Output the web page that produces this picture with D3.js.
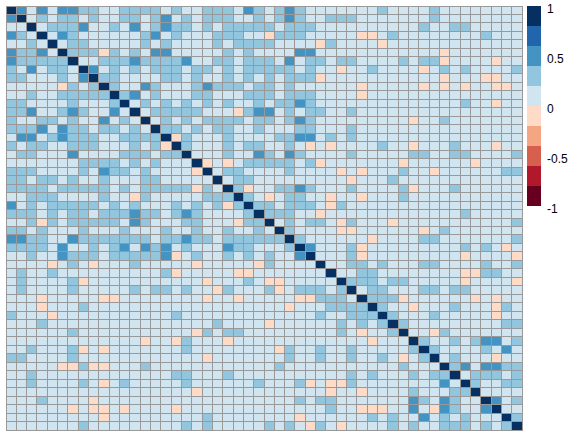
<!DOCTYPE html>
<html>
<head>
<meta charset="utf-8">
<script src="https://cdn.jsdelivr.net/npm/d3@7"></script>
<style>
    html, body { margin: 0; padding: 0; background: #fff; }
    svg { display: block; }
    text { font-family: "Liberation Sans", Arial, sans-serif; font-size: 12px; fill: #000; }
</style>
</head>
<body>
<div id="viz"></div>
<script>
const palette = ['#67001F', '#B2182B', '#D6604D', '#F4A582', '#FDDBC7', '#D1E5F0', '#92C5DE', '#4393C3', '#2166AC', '#053061'];
const breaks = [-0.8, -0.6, -0.4, -0.2, 0, 0.2, 0.4, 0.6, 0.8];
const legendTicks = [1, 0.5, 0, -0.5, -1];

// each letter is one colour bin
const levels = { '#': 1, 'X': 0.5, 'o': 0.3, '.': 0.1, 'n': -0.1 };

// upper triangle, every row starts on the diagonal
const upper = [
    '#X.X.XXoo..oooo.o ..ooo.Xo.oXo..... ..o....o........',
    '#.o.oo.o..oo.oX. o.ooo..o.oXo..ooo .......o........',
    '#.oooX..o.X.oXo o.o.ooooo.ooo.... ......o..oo.....',
    '#.Xo......oX.o ...ooo..nooo..... nn.o........o...',
    '#.oo.....o.o. ...o.oooo....no.. ..n.............',
    '#ooono.o.XX. ....o.o....XX.... ........n.......',
    '#..oooXoooo X..oo.ooo.X.oo.oo ....o.oon....n..',
    '#X.o.o.ooo .oo.o.ooooo.o..n. .o....n.o.o....o',
    '#oo....oo .o..o.o.o.ooon... ........n...nn..',
    '#o..Xo.. .oXooo.oo.o...... n.....n.n.n..nn.',
    '#oX.o.. .oo...ooo.ooo.... n...............',
    '#.o.o. o.o.o..o.ooXo.... ..........o..n..',
    '#.ooo oo...noXX.o.oo..o ................',
    '#.o. o.oooo.oo.oXo.... .....n..o.......',
    '#oo .o.oo..o...oo...o ................',
    '#n o...o....ooXX.o.o ................',
    '# o...o.oo..o.n.n.. ..o..n...o...n..',
    '# ...o..Xo.Xo....o .....oo..oo....o',
    '# n.n.ooooo.on... ....n......n....',
    '# .oo....o....n. n...o..n......oo',
    '# .oo.........n ...o............',
    '# on..ooXo...o ....on...o......',
    '# o.n.oo..n.. n...o...........',
    '# oo.ooo.no. ................',
    '# ooo..n... ..........o.....',
    '# .o.oo.no ...n...........o',
    '# o....nn ......n.o.......',
    '# o..... .n....oo.......o',
    '# X...o n.........o.o.n.',
    '# ...o n.........n....n',
    '# ..o o.o...oo....o..o',
    '# .. oo........nnoo..',
    '# o oo.oo.....n....n',
    '# .oo...oo.oo.....',
    '# ooon......n.n..',
    '# o..n...o...no.',
    '# o...o.....n..',
    '# o.........oo',
    '# ..no.......',
    '# o..o.oXX.o',
    '# o....o.X.',
    '# .o...n..',
    '# oX.XXoo',
    '# .ooo.o',
    '# o..oo',
    '# ....',
    '# X.o',
    '# ..',
    '# o',
    '#'
];

const n = upper.length;
const cells = [];
upper.forEach((row, i) => {
    row.replace(/ /g, '').split('').forEach((code, k) => {
        const j = i + k;
        cells.push({ row: i, col: j, value: levels[code] });
        if (j != i) {
            cells.push({ row: j, col: i, value: levels[code] });
        }
    });
});

const width = 573;
const height = 437;
const gridColor = '#999999';

const svg = d3.select('#viz')
    .append('svg')
    .attr('width', width)
    .attr('height', height);

const x = d3.scaleBand()
    .domain(d3.range(n))
    .range([6, 522]);
const y = d3.scaleBand()
    .domain(d3.range(n))
    .range([6, 430]);
const color = d3.scaleThreshold()
    .domain(breaks)
    .range(palette);

svg.append('g')
    .selectAll('.cell')
    .data(cells)
    .enter()
    .append('rect')
        .classed('cell', true)
        .attr('x', d => x(d.col))
        .attr('y', d => y(d.row))
        .attr('width', x.bandwidth() + 0.5)
        .attr('height', y.bandwidth() + 0.5)
        .attr('fill', d => color(d.value))
        .attr('shape-rendering', 'crispEdges');

// grid goes on top so no cell can cover a line
const xEdges = x.domain().map(d => x(d)).concat(x.range()[1]);
const yEdges = y.domain().map(d => y(d)).concat(y.range()[1]);

svg.append('g')
    .selectAll('line')
    .data(xEdges)
    .enter()
    .append('line')
        .attr('x1', d => Math.floor(d) + 0.5)
        .attr('x2', d => Math.floor(d) + 0.5)
        .attr('y1', y.range()[0])
        .attr('y2', y.range()[1] + 1)
        .attr('stroke', gridColor);

svg.append('g')
    .selectAll('line')
    .data(yEdges)
    .enter()
    .append('line')
        .attr('x1', x.range()[0])
        .attr('x2', x.range()[1] + 1)
        .attr('y1', d => Math.floor(d) + 0.5)
        .attr('y2', d => Math.floor(d) + 0.5)
        .attr('stroke', gridColor);

// colour bar
const legendY = d3.scaleBand()
    .domain(palette.slice().reverse())
    .range([6, 206]);

svg.append('g')
    .selectAll('.bin')
    .data(palette)
    .enter()
    .append('rect')
        .classed('bin', true)
        .attr('x', 527)
        .attr('y', d => legendY(d))
        .attr('width', 14)
        .attr('height', legendY.bandwidth())
        .attr('fill', d => d)
        .attr('shape-rendering', 'crispEdges');

const legendScale = d3.scaleLinear()
    .domain([-1, 1])
    .range([206, 6]);

svg.append('g')
    .attr('transform', 'translate(541,3)')
    .call(d3.axisRight(legendScale).tickValues(legendTicks).tickSize(0).tickPadding(6).tickFormat(d => String(d)))
    .call(g => g.select('.domain').remove())
    .call(g => g.selectAll('text').style('font-size', '12px').style('font-family', '"Liberation Sans", Arial, sans-serif'));
</script>
</body>
</html>
